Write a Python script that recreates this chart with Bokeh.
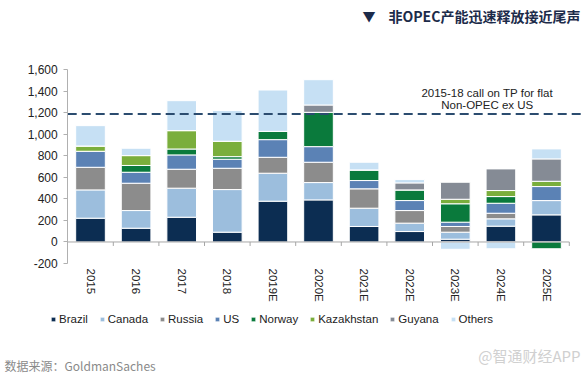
import numpy as np
from bokeh.plotting import figure
from bokeh.models import (Label, Legend, LegendItem, FixedTicker,
                          NumeralTickFormatter, Range1d, ColumnDataSource)
from bokeh.embed import file_html
from bokeh.resources import INLINE

years = ["2015", "2016", "2017", "2018", "2019E", "2020E", "2021E", "2022E", "2023E", "2024E", "2025E"]
brazil = [221, 128, 230, 91, 379, 391, 144, 97, 26, 147, 252]
canada = [263, 164, 270, 396, 260, 161, 170, 78, 65, 68, 133]
russia = [210, 254, 176, 198, 148, 189, 180, 117, 53, 52, 0]
us = [149, 102, 133, 84, 164, 145, 77, 93, 40, 93, 130]
norway = [0, 63, 55, 24, 77, 319, 99, 99, 171, 62, -63]
kazakhstan = [49, 92, 171, 143, 0, 0, 0, 0, 42, 56, 49]
guyana = [0, 0, 0, 0, 0, 68, 0, 65, 158, 201, 208]
others = [189, 68, 278, 285, 384, 235, 71, 31, -68, -63, 93]

series_names = ["Brazil", "Canada", "Russia", "US", "Norway", "Kazakhstan", "Guyana", "Others"]
series_vals = [brazil, canada, russia, us, norway, kazakhstan, guyana, others]
colors = ["#0c2d52", "#9cbedd", "#8c8c8c", "#5b82b5", "#0a7a3c", "#7aae3c", "#858b95", "#c6e0f4"]

ref_level = 1190
ref_text = ["2015-18 call on TP for flat", "Non-OPEC ex US"]
y_min, y_max = -200, 1600
y_ticks = list(range(y_min, y_max + 1, 200))

FONT = "Liberation Sans"
CJK = "Noto Sans CJK SC"

W, H = 586, 379
# pixel layout of the chart area inside the canvas
px_left, px_step, px_first = 67, 45.6, 90
py_top, py_bottom = 69.3, 263.0
u_per_px = (y_max - y_min) / (py_bottom - py_top)
x_lo = -px_first / px_step
x_hi = (W - px_first) / px_step
y_hi = y_max + py_top * u_per_px
y_lo = y_min - (H - py_bottom) * u_per_px

p = figure(width=W, height=H, output_backend="svg", toolbar_location=None,
           x_range=Range1d(x_lo, x_hi), y_range=Range1d(y_lo, y_hi),
           min_border_left=0, min_border_right=0, min_border_top=0, min_border_bottom=0)
p.outline_line_color = None
p.xgrid.visible = False
p.ygrid.visible = False

n = len(years)
x = np.arange(n)
pos_base = np.zeros(n)
neg_base = np.zeros(n)
items = []
for name, vals, col in zip(series_names, series_vals, colors):
    v = np.array(vals, dtype=float)
    bottom = np.where(v >= 0, pos_base, neg_base + v)
    top = np.where(v >= 0, pos_base + v, neg_base)
    pos_base = pos_base + np.where(v > 0, v, 0)
    neg_base = neg_base + np.where(v < 0, v, 0)
    src = ColumnDataSource(dict(x=x, bottom=bottom, top=top))
    r = p.vbar(x="x", bottom="bottom", top="top", width=0.65, source=src,
               fill_color=col, line_color="white", line_width=1)
    items.append(LegendItem(label=name, renderers=[r]))

# zero line and category boundary ticks
p.segment(x0=[-0.5], y0=[0], x1=[n - 0.5], y1=[0], line_color="#a6a6a6", line_width=1)
bounds = np.arange(n) + 0.5
p.segment(x0=bounds, y0=0, x1=bounds, y1=-4 * u_per_px, line_color="#a6a6a6", line_width=1)

# reference dashed line
p.segment(x0=[-0.5], y0=[ref_level], x1=[n - 0.25], y1=[ref_level], line_color="#2b4c6f",
          line_width=2, line_dash="9 5")
p.add_layout(Label(x=8.7, y=1387, text=ref_text[0], text_align="center", text_baseline="middle",
                   text_font=FONT, text_font_size="11.5px", text_color="#222222"))
p.add_layout(Label(x=8.7, y=1276, text=ref_text[1], text_align="center", text_baseline="middle",
                   text_font=FONT, text_font_size="11.5px", text_color="#222222"))

# axes
p.yaxis.fixed_location = -0.5
p.yaxis.bounds = (y_min, y_max)
p.yaxis.ticker = FixedTicker(ticks=y_ticks)
p.yaxis.formatter = NumeralTickFormatter(format="0,0")
p.yaxis.axis_line_color = "#b0b0b0"
p.yaxis.major_tick_line_color = "#b0b0b0"
p.yaxis.major_tick_out = 4
p.yaxis.major_tick_in = 0
p.yaxis.minor_tick_line_color = None
p.yaxis.major_label_text_font = FONT
p.yaxis.major_label_text_font_size = "12px"
p.yaxis.major_label_text_color = "#222222"
p.yaxis.major_label_standoff = 6

p.xaxis.fixed_location = y_min
p.xaxis.ticker = FixedTicker(ticks=list(range(n)))
p.xaxis.major_label_overrides = {i: y for i, y in enumerate(years)}
p.xaxis.major_label_orientation = "vertical"
p.xaxis.axis_line_color = None
p.xaxis.major_tick_line_color = None
p.xaxis.minor_tick_line_color = None
p.xaxis.major_tick_out = 0
p.xaxis.major_tick_in = 0
p.xaxis.major_label_standoff = 5
p.xaxis.major_label_text_font = FONT
p.xaxis.major_label_text_font_size = "11.5px"
p.xaxis.major_label_text_color = "#222222"

legend = Legend(items=items, orientation="horizontal", location=(50, H - 325),
                glyph_width=6, glyph_height=6, label_standoff=3, spacing=11,
                padding=0, margin=0, border_line_color=None, background_fill_alpha=0,
                label_text_font=FONT, label_text_font_size="11.5px", label_text_color="#222222",
                label_height=12, label_width=0)
p.add_layout(legend, "center")

# title, footer, watermark
p.add_layout(Label(x=362, y=H - 15, x_units="screen", y_units="screen", text="▼",
                   text_align="left", text_baseline="middle", text_font=CJK,
                   text_font_size="13px", text_color="#1c2b4a", text_font_style="bold"))
p.add_layout(Label(x=388, y=H - 15, x_units="screen", y_units="screen", text="非OPEC产能迅速释放接近尾声",
                   text_align="left", text_baseline="middle", text_font=CJK,
                   text_font_size="14px", text_color="#1c2b4a", text_font_style="bold"))
p.add_layout(Label(x=4, y=H - 365, x_units="screen", y_units="screen", text="数据来源：GoldmanSaches",
                   text_align="left", text_baseline="middle", text_font=CJK,
                   text_font_size="12px", text_color="#8a8a8a"))
p.add_layout(Label(x=580, y=H - 355, x_units="screen", y_units="screen", text="@智通财经APP",
                   text_align="right", text_baseline="middle", text_font=CJK,
                   text_font_size="15px", text_color="#d0d0d0"))

open("out.html", "w").write(file_html(p, INLINE))
